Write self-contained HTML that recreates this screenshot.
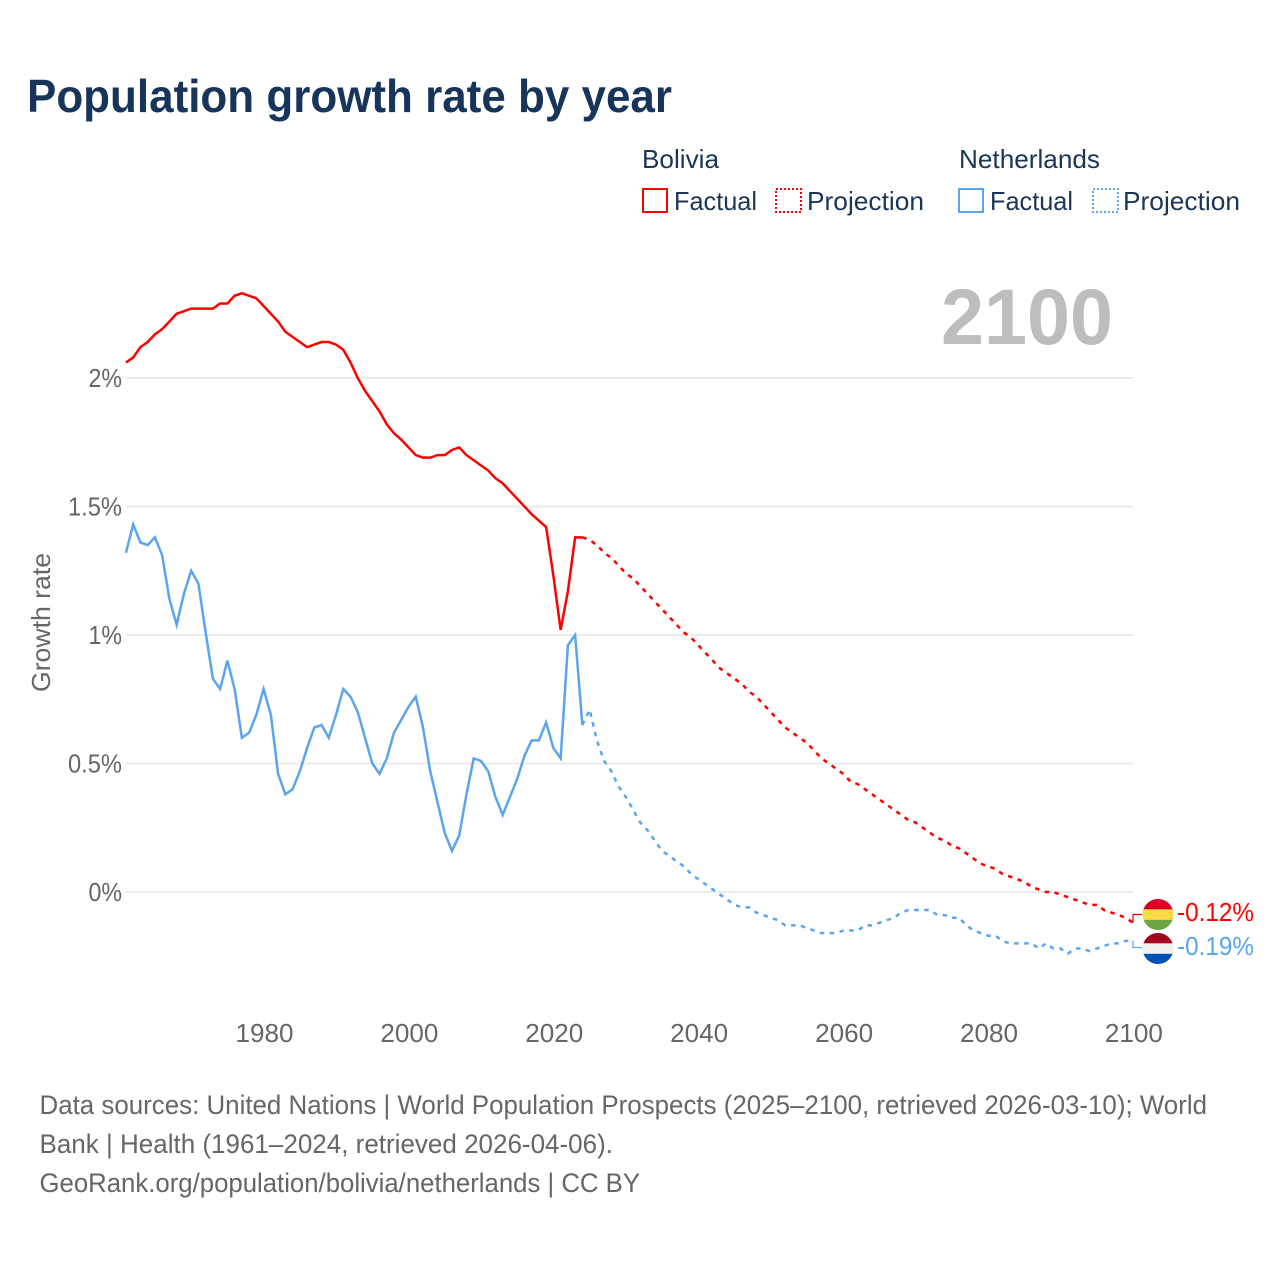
<!DOCTYPE html>
<html lang="en">
<head>
<meta charset="utf-8">
<title>Population growth rate by year</title>
<style>
html,body{margin:0;padding:0;background:#fff;}
svg{display:block;font-family:"Liberation Sans",sans-serif;}
</style>
</head>
<body>
<svg id="chart" xmlns="http://www.w3.org/2000/svg" width="1280" height="1280" viewBox="0 0 1280 1280">
  <rect width="1280" height="1280" fill="#fff"/>
  <text x="27" y="112" font-size="46" font-weight="700" fill="#17345a" textLength="645" lengthAdjust="spacingAndGlyphs">Population growth rate by year</text>

  <g font-size="26" fill="#1b3557">
    <text x="642" y="168" textLength="77" lengthAdjust="spacingAndGlyphs">Bolivia</text>
    <text x="959" y="168" textLength="141" lengthAdjust="spacingAndGlyphs">Netherlands</text>
    <g>
      <rect x="643" y="189" width="24" height="23" fill="none" stroke="#ff0000" stroke-width="2"/>
      <text x="674" y="210" textLength="83" lengthAdjust="spacingAndGlyphs">Factual</text>
    </g>
    <g>
      <rect x="776" y="189" width="25" height="23" fill="none" stroke="#ff0000" stroke-width="2" stroke-dasharray="2 2"/>
      <text x="807" y="210" textLength="117" lengthAdjust="spacingAndGlyphs">Projection</text>
    </g>
    <g>
      <rect x="959" y="189" width="24" height="23" fill="none" stroke="#5ba5ee" stroke-width="2"/>
      <text x="990" y="210" textLength="83" lengthAdjust="spacingAndGlyphs">Factual</text>
    </g>
    <g>
      <rect x="1093" y="189" width="25" height="23" fill="none" stroke="#5ba5ee" stroke-width="2" stroke-dasharray="2 2"/>
      <text x="1123" y="210" textLength="117" lengthAdjust="spacingAndGlyphs">Projection</text>
    </g>
  </g>

  <text x="941" y="344" font-size="79" font-weight="700" fill="#bdbdbd" textLength="172" lengthAdjust="spacingAndGlyphs">2100</text>

  <g id="grid"></g>
  <g id="yticks" font-size="26" fill="#666"></g>
  <g id="xticks" font-size="26" fill="#666"></g>
  <text transform="translate(50,692) rotate(-90)" font-size="26" fill="#666" textLength="139" lengthAdjust="spacingAndGlyphs">Growth rate</text>
  <g id="series"></g>

  <g>
    <clipPath id="clip-bo"><circle cx="1158" cy="914.5" r="15.5"/></clipPath>
    <g clip-path="url(#clip-bo)">
      <rect x="1142" y="899" width="32" height="10.4" fill="#d80027"/>
      <rect x="1142" y="909.4" width="32" height="10.4" fill="#ffda44"/>
      <rect x="1142" y="919.8" width="32" height="10.4" fill="#6da544"/>
    </g>
  </g>
  <g>
    <clipPath id="clip-nl"><circle cx="1158" cy="948.5" r="15.5"/></clipPath>
    <g clip-path="url(#clip-nl)">
      <rect x="1142" y="933" width="32" height="10.4" fill="#a2001d"/>
      <rect x="1142" y="943.4" width="32" height="10.4" fill="#f0f0f0"/>
      <rect x="1142" y="953.8" width="32" height="10.4" fill="#0052b4"/>
    </g>
  </g>
  <text id="end-bo" x="1177" y="921" font-size="26" fill="#ff0000" textLength="77" lengthAdjust="spacingAndGlyphs">-0.12%</text>
  <text id="end-nl" x="1177" y="955" font-size="26" fill="#5ba5ee" textLength="77" lengthAdjust="spacingAndGlyphs">-0.19%</text>

  <g font-size="27" fill="#666">
    <text x="39.5" y="1114" textLength="1167.5" lengthAdjust="spacingAndGlyphs">Data sources: United Nations | World Population Prospects (2025–2100, retrieved 2026-03-10); World</text>
    <text x="39.5" y="1153" textLength="573.5" lengthAdjust="spacingAndGlyphs">Bank | Health (1961–2024, retrieved 2026-04-06).</text>
    <text x="39.5" y="1192" textLength="600.5" lengthAdjust="spacingAndGlyphs">GeoRank.org/population/bolivia/netherlands | CC BY</text>
  </g>
</svg>
<script>
const yTickValues = [0, 0.5, 1, 1.5, 2];
const yTickLabels = ["0%", "0.5%", "1%", "1.5%", "2%"];
const xTickYears = [1980, 2000, 2020, 2040, 2060, 2080, 2100];
const factualStartYear = 1961;
const projectionStartYear = 2024;
const boliviaFactual = [
  2.06,2.08,2.12,2.14,2.17,2.19,2.22,2.25,2.26,2.27,
  2.27,2.27,2.27,2.29,2.29,2.32,2.33,2.32,2.31,2.28,
  2.25,2.22,2.18,2.16,2.14,2.12,2.13,2.14,2.14,2.13,
  2.11,2.06,2.00,1.95,1.91,1.87,1.82,1.785,1.76,1.73,
  1.70,1.69,1.69,1.70,1.70,1.72,1.73,1.70,1.68,1.66,
  1.64,1.61,1.59,1.56,1.53,1.50,1.47,1.445,1.42,1.23,
  1.02,1.17,1.38,1.38
];
const boliviaProjection = [
  1.38,1.37,1.35,1.32,1.30,1.27,1.24,1.22,1.19,1.16,
  1.13,1.10,1.07,1.04,1.01,0.99,0.96,0.93,0.90,0.87,
  0.85,0.83,0.81,0.78,0.76,0.73,0.70,0.67,0.64,0.62,
  0.60,0.58,0.55,0.52,0.50,0.48,0.46,0.43,0.42,0.40,
  0.38,0.36,0.34,0.32,0.30,0.28,0.27,0.25,0.23,0.21,
  0.20,0.18,0.17,0.15,0.13,0.11,0.10,0.09,0.07,0.06,
  0.05,0.04,0.02,0.01,0.00,0.00,-0.01,-0.02,-0.03,-0.04,
  -0.05,-0.05,-0.07,-0.08,-0.09,-0.10,-0.12
];
const netherlandsFactual = [
  1.32,1.43,1.36,1.35,1.38,1.31,1.14,1.04,1.16,1.25,
  1.20,1.01,0.83,0.79,0.90,0.79,0.60,0.62,0.69,0.79,
  0.69,0.46,0.38,0.40,0.47,0.56,0.64,0.65,0.60,0.69,
  0.79,0.76,0.70,0.60,0.50,0.46,0.52,0.62,0.67,0.72,
  0.76,0.64,0.47,0.35,0.23,0.16,0.22,0.38,0.52,0.51,
  0.47,0.37,0.30,0.37,0.44,0.53,0.59,0.59,0.66,0.56,
  0.52,0.96,1.00,0.65
];
const netherlandsProjection = [
  0.65,0.71,0.59,0.51,0.47,0.41,0.37,0.32,0.27,0.24,
  0.20,0.16,0.14,0.12,0.10,0.07,0.05,0.03,0.01,-0.01,
  -0.03,-0.05,-0.06,-0.06,-0.08,-0.09,-0.10,-0.11,-0.13,-0.13,
  -0.13,-0.14,-0.15,-0.16,-0.16,-0.16,-0.15,-0.15,-0.15,-0.13,
  -0.13,-0.12,-0.11,-0.10,-0.08,-0.07,-0.07,-0.07,-0.07,-0.09,
  -0.09,-0.10,-0.10,-0.13,-0.15,-0.16,-0.17,-0.17,-0.19,-0.20,
  -0.20,-0.20,-0.20,-0.22,-0.20,-0.22,-0.22,-0.24,-0.22,-0.22,
  -0.23,-0.22,-0.21,-0.20,-0.20,-0.19,-0.19
];

const NS = "http://www.w3.org/2000/svg";
const xOf = function (year) { return 263.6 + (year - 1980) * 7.245; };
const tickX = function (year) { return 264.5 + (year - 1980) * 7.245; };
const yOf = function (value) { return 892 - value * 257; };
const pathFrom = function (values, startYear) {
  return values.map(function (v, i) {
    return (i ? "L" : "M") + xOf(startYear + i).toFixed(2) + " " + yOf(v).toFixed(2);
  }).join("");
};
const labelWidth = function (s) {
  let w = 0;
  for (const c of s) { w += c === "%" ? 19 : c === "." ? 6 : 14.5; }
  return w;
};

const grid = document.getElementById("grid");
const yticks = document.getElementById("yticks");
yTickValues.forEach(function (v, i) {
  const line = document.createElementNS(NS, "line");
  
  
  line.setAttribute("x1", 126);
  line.setAttribute("x2", 1133);
  line.setAttribute("y1", yOf(v));
  line.setAttribute("y2", yOf(v));
  line.setAttribute("stroke", "#ebebeb");
  line.setAttribute("stroke-width", 2);
  grid.appendChild(line);
  const t = document.createElementNS(NS, "text");
  
  
  t.setAttribute("x", 122 - labelWidth(yTickLabels[i]));
  t.setAttribute("y", yOf(v) + 9);
  t.setAttribute("textLength", labelWidth(yTickLabels[i]));
  t.setAttribute("lengthAdjust", "spacingAndGlyphs");
  t.textContent = yTickLabels[i];
  yticks.appendChild(t);
});

const xticks = document.getElementById("xticks");
xTickYears.forEach(function (year) {
  const t = document.createElementNS(NS, "text");
  
  
  t.setAttribute("x", tickX(year) - 29);
  t.setAttribute("y", 1042);
  t.setAttribute("textLength", 58);
  t.setAttribute("lengthAdjust", "spacingAndGlyphs");
  t.textContent = String(year);
  xticks.appendChild(t);
});

const series = document.getElementById("series");

const boFactualLine = document.createElementNS(NS, "path");


boFactualLine.setAttribute("d", pathFrom(boliviaFactual, factualStartYear));
boFactualLine.setAttribute("fill", "none");
boFactualLine.setAttribute("stroke", "#ff0000");
boFactualLine.setAttribute("stroke-width", 2.5);
series.appendChild(boFactualLine);

const nlFactualLine = document.createElementNS(NS, "path");


nlFactualLine.setAttribute("d", pathFrom(netherlandsFactual, factualStartYear));
nlFactualLine.setAttribute("fill", "none");
nlFactualLine.setAttribute("stroke", "#5ba5ee");
nlFactualLine.setAttribute("stroke-width", 2.5);
series.appendChild(nlFactualLine);

const boProjectionLine = document.createElementNS(NS, "path");


boProjectionLine.setAttribute("d", pathFrom(boliviaProjection, projectionStartYear));
boProjectionLine.setAttribute("fill", "none");
boProjectionLine.setAttribute("stroke", "#ff0000");
boProjectionLine.setAttribute("stroke-width", 2.5);
boProjectionLine.setAttribute("stroke-dasharray", "4.5 5.5");
series.appendChild(boProjectionLine);

const nlProjectionLine = document.createElementNS(NS, "path");


nlProjectionLine.setAttribute("d", pathFrom(netherlandsProjection, projectionStartYear));
nlProjectionLine.setAttribute("fill", "none");
nlProjectionLine.setAttribute("stroke", "#5ba5ee");
nlProjectionLine.setAttribute("stroke-width", 2.5);
nlProjectionLine.setAttribute("stroke-dasharray", "4.5 5.5");
series.appendChild(nlProjectionLine);

const boLast = boliviaProjection[boliviaProjection.length - 1];
const nlLast = netherlandsProjection[netherlandsProjection.length - 1];

const boConnector = document.createElementNS(NS, "path");


boConnector.setAttribute("d", "M" + xOf(2100) + " " + yOf(boLast) + "V914.5H1142");
boConnector.setAttribute("fill", "none");
boConnector.setAttribute("stroke", "#ff0000");
boConnector.setAttribute("stroke-width", 1.2);
series.appendChild(boConnector);

const nlConnector = document.createElementNS(NS, "path");


nlConnector.setAttribute("d", "M" + xOf(2100) + " " + yOf(nlLast) + "V947.5H1142");
nlConnector.setAttribute("fill", "none");
nlConnector.setAttribute("stroke", "#5ba5ee");
nlConnector.setAttribute("stroke-width", 1.2);
series.appendChild(nlConnector);

document.getElementById("end-bo").textContent = boLast.toFixed(2) + "%";
document.getElementById("end-nl").textContent = nlLast.toFixed(2) + "%";
</script>
</body>
</html>
